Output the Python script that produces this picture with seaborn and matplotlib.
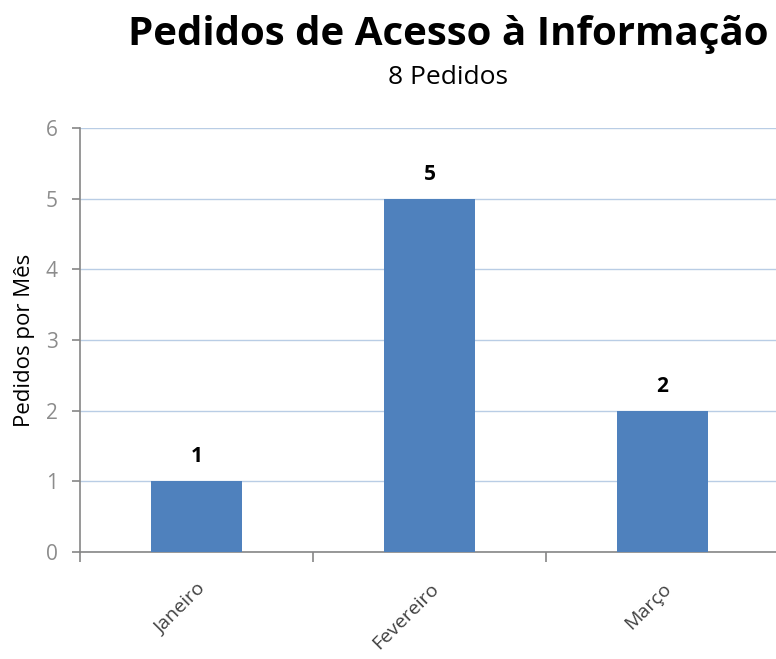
import matplotlib
matplotlib.use("Agg")
import matplotlib.pyplot as plt
import seaborn as sns
import pandas as pd

# data
meses = ["Janeiro", "Fevereiro", "Março"]
pedidos = [1, 5, 2]
total = sum(pedidos)

df = pd.DataFrame({"Mes": meses, "Pedidos": pedidos})

sns.set_style("white")
plt.rcParams["font.family"] = ["Open Sans", "DejaVu Sans"]

fig = plt.figure(figsize=(7.76, 6.59), dpi=100)
ax = fig.add_axes([80 / 776, 107 / 659, 699 / 776, 424 / 659])

sns.barplot(data=df, x="Mes", y="Pedidos", color="#4F81BD", width=0.39,
            saturation=1, linewidth=0, edgecolor="none", ax=ax, zorder=3)

ax.set_ylim(0, 6)
ax.set_xlim(-0.5, 2.5)
ax.set_yticks(range(0, 7))
ax.yaxis.grid(True, color="#B9CDE5", linewidth=1, zorder=0)
ax.set_axisbelow(True)

for s in ["top", "right"]:
    ax.spines[s].set_visible(False)
for s in ["left", "bottom"]:
    ax.spines[s].set_color("#868686")
    ax.spines[s].set_linewidth(1.2)

# ticks between categories on x
ax.set_xticks(range(len(meses)))
ax.set_xticks([-0.5, 0.5, 1.5, 2.5], minor=True)
ax.tick_params(axis="x", which="minor", bottom=True, length=7, color="#868686", width=1.2)
ax.tick_params(axis="x", which="major", bottom=False, length=0, pad=20)
ax.tick_params(axis="y", left=True, length=6, color="#868686", width=1.2, labelcolor="#8C8C8C",
               labelsize=15, pad=10)
ax.set_xticklabels(meses, rotation=45, ha="right", rotation_mode="anchor",
                   fontsize=14, color="#404040")

ax.set_xlabel("")
ax.set_ylabel("Pedidos por Mês", fontsize=16, color="#000000", labelpad=8)

for i, v in enumerate(pedidos):
    ax.text(i, v + 0.2, str(v), ha="center", va="bottom", fontsize=15,
            fontweight="bold", color="#000000")

fig.text(448 / 776, 1 - 35 / 659, "Pedidos de Acesso à Informação", ha="center",
         va="center", fontsize=29, fontweight="bold", color="#000000")
fig.text(448 / 776, 1 - 78 / 659, f"{total} Pedidos", ha="center", va="center",
         fontsize=19, color="#000000")

fig.savefig("out.png", dpi=100)
